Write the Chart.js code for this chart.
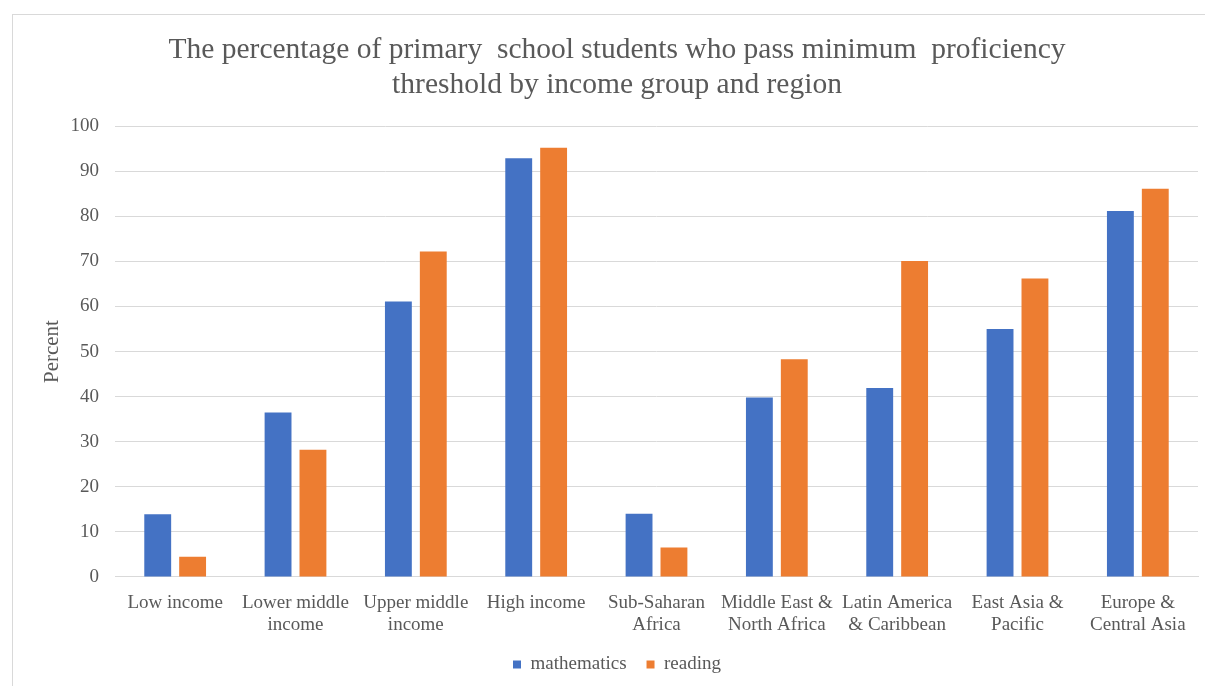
<!DOCTYPE html>
<html>
<head>
<meta charset="utf-8">
<script src="https://cdn.jsdelivr.net/npm/chart.js@4.4.1/dist/chart.umd.min.js"></script>
<style>
  html, body { margin: 0; padding: 0; background: #ffffff; overflow: hidden; width: 1205px; height: 686px; }
  #frame { position: absolute; left: 12px; top: 14px; width: 1210px; height: 680px; border: 1px solid #d9d9d9; box-sizing: border-box; }
  #wrap { position: absolute; left: 12px; top: 14px; width: 1210px; height: 670px; }
</style>
</head>
<body>
<div id="frame"></div>
<div id="wrap"><canvas id="c" width="1210" height="670"></canvas></div>
<script>
const titleLines = ["The percentage of primary  school students who pass minimum  proficiency", "threshold by income group and region"];
const categories = [
  ["Low income"],
  ["Lower middle", "income"],
  ["Upper middle", "income"],
  ["High income"],
  ["Sub-Saharan", "Africa"],
  ["Middle East &", "North Africa"],
  ["Latin America", "& Caribbean"],
  ["East Asia &", "Pacific"],
  ["Europe &", "Central Asia"]
];
const seriesNames = ["mathematics", "reading"];
const mathematics = [13.9, 36.5, 61.1, 92.9, 14.0, 39.8, 41.9, 55.0, 81.2];
const reading = [4.5, 28.2, 72.2, 95.2, 6.5, 48.3, 70.1, 66.2, 86.1];
const yTicks = [0, 10, 20, 30, 40, 50, 60, 70, 80, 90, 100];
const yAxisTitle = "Percent";

const textColor = "#595959";
const gridColor = "#d9d9d9";
const serif = "'Liberation Serif', 'Times New Roman', serif";

new Chart(document.getElementById("c"), {
  type: "bar",
  data: {
    labels: categories,
    datasets: [
      { label: seriesNames[0], data: mathematics, backgroundColor: "#4472C4", borderWidth: 0, categoryPercentage: 0.58, barPercentage: 0.77 },
      { label: seriesNames[1], data: reading, backgroundColor: "#ED7D31", borderWidth: 0, categoryPercentage: 0.58, barPercentage: 0.77 }
    ]
  },
  options: {
    responsive: false,
    animation: false,
    devicePixelRatio: 1,
    layout: { padding: { left: 0, right: 0, top: 0, bottom: 0 } },
    plugins: {
      title: {
        display: true,
        text: titleLines,
        color: textColor,
        font: { family: serif, size: 29.5, weight: "normal", lineHeight: 1.19 },
        padding: { top: 19, bottom: 23 }
      },
      legend: {
        display: true,
        position: "bottom",
        labels: {
          color: textColor,
          font: { family: serif, size: 19 },
          boxWidth: 8,
          boxHeight: 8,
          usePointStyle: true,
          pointStyle: "rect",
          padding: 20
        }
      },
      tooltip: { enabled: false }
    },
    scales: {
      x: {
        grid: { display: false, drawTicks: false },
        border: { display: true, color: gridColor, width: 1 },
        afterFit: (axis) => { axis.height = axis.height - 16; },
        ticks: {
          color: textColor,
          font: { family: serif, size: 19, lineHeight: 1.16 },
          padding: 15,
          maxRotation: 0,
          autoSkip: false
        }
      },
      y: {
        min: 0,
        max: 100,
        afterBuildTicks: (axis) => { axis.ticks = yTicks.map(v => ({ value: v })); },
        afterFit: (axis) => { axis.width = 103; },
        grid: { color: gridColor, lineWidth: 1, drawTicks: false },
        border: { display: false },
        ticks: {
          color: textColor,
          font: { family: serif, size: 19 },
          padding: 16
        },
        title: {
          display: true,
          text: yAxisTitle,
          color: textColor,
          font: { family: serif, size: 21 },
          padding: { top: 28, bottom: 0 }
        }
      },
      spacer: {
        position: "right",
        display: true,
        grid: { display: false, drawTicks: false },
        border: { display: false },
        ticks: { display: false },
        afterFit: (axis) => { axis.width = 24; }
      }
    }
  }
});
</script>
</body>
</html>
